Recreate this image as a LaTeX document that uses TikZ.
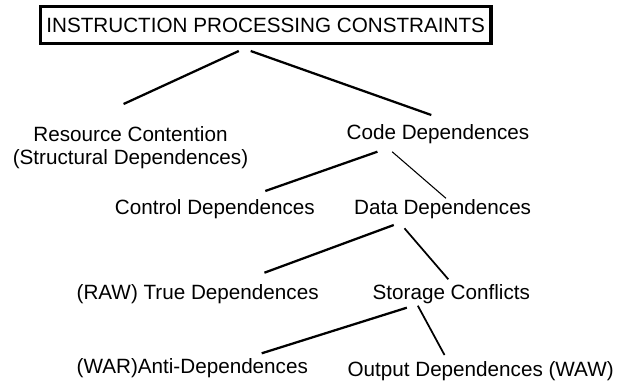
\documentclass[tikz,border=0pt]{standalone}
\usepackage{fontspec}
\setmainfont{Liberation Sans}
\usepackage{tikz}
\usetikzlibrary{positioning,shadows}
\definecolor{HeadShade}{HTML}{8FEDED}

\begin{document}
\begin{tikzpicture}[x=0.75pt,y=-0.75pt,node distance=3mm]
  \tikzstyle{item}=[inner sep=0pt,font=\fontsize{15.5}{17.3}\selectfont]
  \tikzstyle{head}=[draw,fill=white,line width=2.6pt,inner sep=0pt,
    minimum width=338pt,minimum height=27.4pt,font=\fontsize{15.5}{17.3}\selectfont,
    drop shadow={shadow xshift=1.2pt,shadow yshift=-1.2pt,fill=HeadShade,opacity=1}]
  \tikzstyle{branch}=[line width=1.7pt]
  \useasboundingbox (0,0) rectangle (621,383);
  \node[head] (ipc) at (265.7,25) {INSTRUCTION PROCESSING CONSTRAINTS};
  \node[item,anchor=north,align=center] (rc) at (130.5,126) {Resource Contention\\(Structural Dependences)};
  \node[item,anchor=base] (cd) at (438,139.5) {Code Dependences};
  \node[item,anchor=base] (ctl) at (214.9,214.3) {Control Dependences};
  \node[item,base right=29.1pt of ctl] (dd) {Data Dependences};
  \node[item,anchor=base west] (raw) at (76.4,299) {(RAW) True Dependences};
  \node[item,base right=40.1pt of raw] (sc) {Storage Conflicts};
  \node[item,anchor=base west] (war) at (76.4,373) {(WAR)Anti-Dependences};
  \node[item,anchor=base west] (waw) at (347.3,376) {Output Dependences (WAW)};
  \draw[branch] ([shift={(-26.9,26)}]ipc.center)--([shift={(-6.9,-22)}]rc.north);
  \draw[branch] ([shift={(-15,26)}]ipc.center)--([shift={(-6.7,-24.5)}]cd.base);
  \draw[branch] ([shift={(-60.6,12.2)}]cd.base)--([shift={(50.4,-23.3)}]ctl.base);
  \draw[line width=0.8pt] ([shift={(-45.9,12.2)}]cd.base)--([shift={(3.3,-16)}]dd.base);
  \draw[branch] ([shift={(-48.9,10.7)}]dd.base)--([shift={(66.8,-26.3)}]raw.base);
  \draw[line width=1.3pt] ([shift={(-38.2,14)}]dd.base)--([shift={(-3,-19.7)}]sc.base);
  \draw[branch] ([shift={(-44.5,8.7)}]sc.base)--([shift={(69.4,-19.7)}]war.base);
  \draw[line width=1.3pt] ([shift={(-33.5,6.7)}]sc.base)--([shift={(-36.1,-21)}]waw.base);
\end{tikzpicture}
\end{document}
